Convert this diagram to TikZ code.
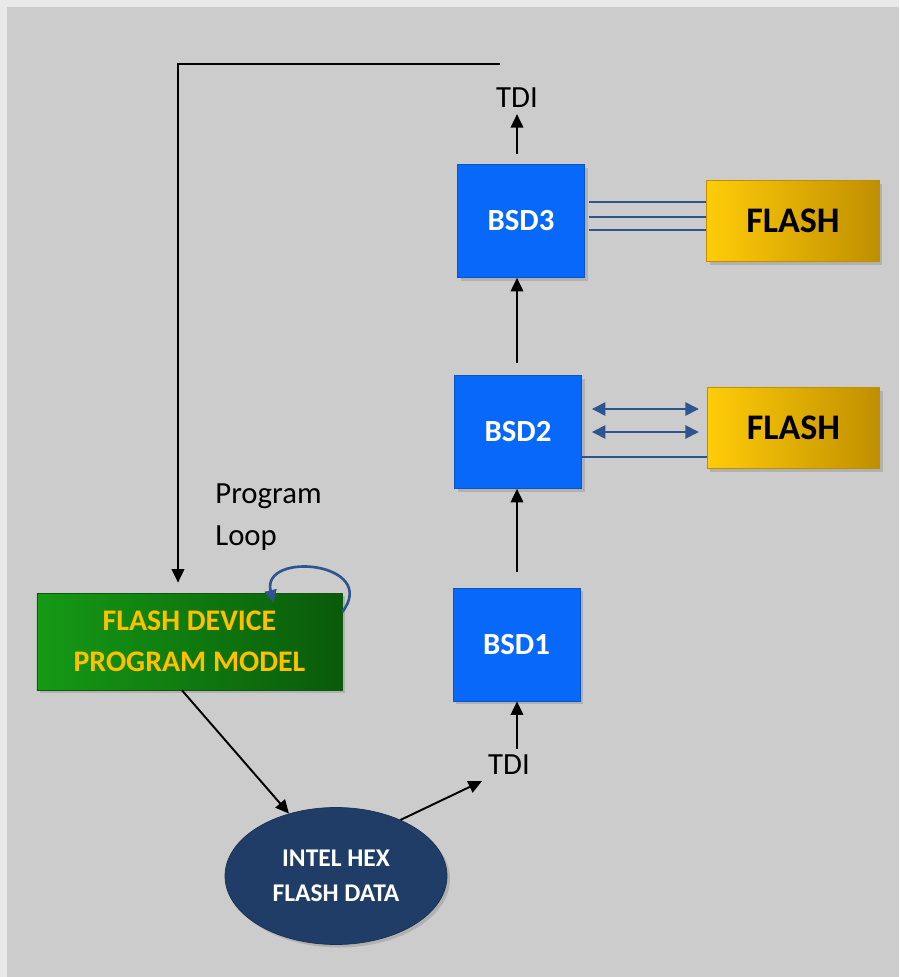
\documentclass[tikz,border=0pt]{standalone}
\usepackage{fontspec}
\setmainfont{Carlito}
\usepackage{xcolor}
\usetikzlibrary{arrows.meta,positioning,calc,shapes.geometric,shadows}
\definecolor{panelgray}{HTML}{CCCCCC}
\definecolor{paneledge}{HTML}{E9E9E9}
\definecolor{bsdblue}{HTML}{0868FA}
\definecolor{bsdedge}{HTML}{0A55C8}
\definecolor{flashlt}{HTML}{FFCC08}
\definecolor{flashdk}{HTML}{C08F00}
\definecolor{greenlt}{HTML}{159A15}
\definecolor{greendk}{HTML}{0A5A0A}
\definecolor{labgold}{HTML}{FFC000}
\definecolor{hexnavy}{HTML}{1F3D66}
\definecolor{busblue}{HTML}{2F5590}
\tikzset{
  diagarr/.style={-{Triangle[length=2.7mm,width=2.5mm]}, line width=1.1pt, draw=black},
  busarr/.style={{Triangle[length=2.7mm,width=2.6mm]}-{Triangle[length=2.7mm,width=2.6mm]}, line width=1.5pt, draw=busblue},
  busline/.style={line width=1.5pt, draw=busblue},
  diagnode/.style={align=center, inner sep=2pt},
  dropsh/.style={drop shadow={opacity=0.35, shadow xshift=0.06cm, shadow yshift=-0.06cm}},
}

\begin{document}
\begin{tikzpicture}[
  font=\fontsize{17.5}{21}\selectfont,
  bsd/.style={diagnode, fill=bsdblue, draw=bsdedge, text=white, minimum width=2.54cm, minimum height=2.26cm, font=\fontsize{17.5}{21}\selectfont\bfseries, dropsh},
  flash/.style={diagnode, left color=flashlt, right color=flashdk, draw=flashdk, minimum width=3.45cm, minimum height=1.62cm, font=\fontsize{20.5}{25}\selectfont\bfseries, dropsh},
]
  % panel
  \fill[paneledge] (0,0) rectangle (17.98,-19.54);
  \fill[panelgray] (0.14,-0.14) rectangle (17.98,-19.54);
  \useasboundingbox (0,0) rectangle (17.98,-19.54);

  \node[bsd] (bsd3) at (10.42,-4.42) {BSD3};
  \node[bsd] (bsd2) at (10.36,-8.64) {BSD2};
  \node[bsd] (bsd1) at (10.33,-12.89) {BSD1};

  \node[flash] (fl1) at (15.86,-4.42) {FLASH};
  \node[flash] (fl2) at (15.87,-8.56) {FLASH};

  \node[diagnode, left color=greenlt, right color=greendk, draw=greendk, text=labgold, minimum width=6.1cm, minimum height=1.94cm, font=\fontsize{17}{23}\selectfont\bfseries, dropsh] (model) at (3.79,-12.83) {FLASH DEVICE\\PROGRAM MODEL};
  \node[diagnode, ellipse, fill=hexnavy, draw=hexnavy!80!black, text=white, minimum width=4.44cm, minimum height=2.74cm, inner sep=0pt, font=\fontsize{14.5}{20}\selectfont\bfseries, dropsh] (hex) at (6.72,-17.52) {INTEL HEX\\FLASH DATA};

  \node (tdit) at (10.34,-1.96) {TDI};
  \node (tdib) at (10.18,-15.30) {TDI};
  \node[align=left, anchor=west, inner sep=0pt, font=\fontsize{17.5}{24}\selectfont] (loop) at (4.30,-10.34) {Program\\Loop};
  \coordinate (fbk) at (10.0,-1.28);

  % scan chain
  \draw[diagarr, shorten <=0.2cm] (bsd3.north -| tdit.south) -- (tdit.south);
  \draw[diagarr, shorten <=0.24cm] (bsd2.north -| tdit.south) -- (bsd3.south -| tdit.south);
  \draw[diagarr, shorten <=0.32cm] (bsd1.north -| tdit.south) -- (bsd2.south -| tdit.south);
  \draw[diagarr] (tdib.north -| tdit.south) -- (bsd1.south -| tdit.south);

  % feedback
  \draw[diagarr, shorten >=0.2cm] (fbk) -| ([xshift=-0.23cm]model.north);
  \draw[diagarr] ([xshift=-0.15cm]model.south) -- (hex.127);
  \draw[diagarr] (hex.41) -- (tdib.south west);
  \draw[busblue, line width=1.5pt, -{Triangle[length=2.6mm,width=2.4mm]}] ([yshift=0.59cm]model.east) .. controls +(0.75,1.0) and +(-0.25,1.05) .. ([xshift=1.68cm, yshift=0.77cm]model.center);

  % flash busses
  \foreach \dy in {0.38,0.08,-0.18}
    \draw[busline] ([xshift=0.08cm, yshift=\dy cm]bsd3.east) -- ([yshift=\dy cm]bsd3.east -| fl1.west);
  \foreach \dy in {0.46,0.0}
    \draw[busarr] ([xshift=0.2cm, yshift=\dy cm]bsd2.east) -- ([xshift=-0.16cm, yshift=\dy cm]bsd2.east -| fl2.west);
  \draw[busline] ([yshift=-0.5cm]bsd2.east) -- ([yshift=-0.5cm]bsd2.east -| fl2.west);
\end{tikzpicture}
\end{document}
